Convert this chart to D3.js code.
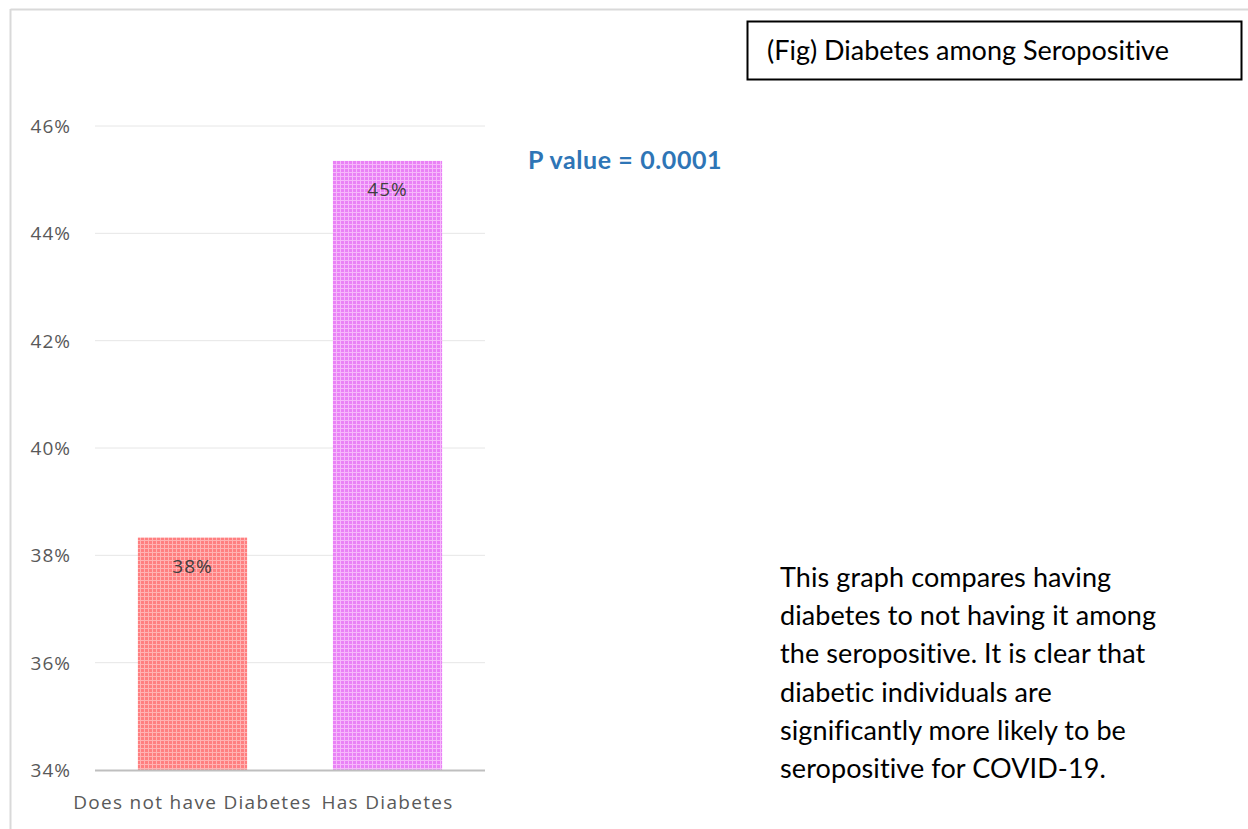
<!DOCTYPE html>
<html>
<head>
<meta charset="utf-8">
<script src="https://cdn.jsdelivr.net/npm/d3@7"></script>
<style>
  body { margin: 0; background: #fff; }
  svg { display: block; }
  text { font-variant-ligatures: none; }
</style>
</head>
<body>
<script>
const width = 1248;
const height = 829;

// data
const categories = ["Does not have Diabetes", "Has Diabetes"];
const values = [38.33, 45.35];
const barLabels = ["38%", "45%"];
const yTicks = [34, 36, 38, 40, 42, 44, 46];
const noteLines = [
    "This graph compares having",
    "diabetes to not having it among",
    "the seropositive. It is clear that",
    "diabetic individuals are",
    "significantly more likely to be",
    "seropositive for COVID-19."
];

const colors = [
    { base: "#ff7f80", light: "#ffb3b3", id: "patRed" },
    { base: "#e982f6", light: "#f6b8fb", id: "patPink" }
];

const svg = d3.select("body")
    .append("svg")
    .attr("width", width)
    .attr("height", height);

// small grid pattern fills for the bars
const defs = svg.append("defs");
colors.forEach(c => {
    const p = defs.append("pattern")
        .attr("id", c.id)
        .attr("patternUnits", "userSpaceOnUse")
        .attr("width", 4)
        .attr("height", 4);
    p.append("rect").attr("width", 4).attr("height", 4).attr("fill", c.base);
    p.append("rect").attr("x", 0).attr("y", 0).attr("width", 4).attr("height", 1).attr("fill", c.light);
    p.append("rect").attr("x", 0).attr("y", 0).attr("width", 1).attr("height", 4).attr("fill", c.light);
});

// chart area border (top + left visible)
svg.append("line")
    .attr("x1", 10.5).attr("x2", width)
    .attr("y1", 9.5).attr("y2", 9.5)
    .attr("stroke", "#d9d9d9").attr("stroke-width", 2);
svg.append("line")
    .attr("x1", 10.5).attr("x2", 10.5)
    .attr("y1", 9).attr("y2", height)
    .attr("stroke", "#d9d9d9").attr("stroke-width", 2);

const x = d3.scaleBand()
    .domain(categories)
    .range([95, 485])
    .paddingInner(0.44)
    .paddingOuter(0.22);

const y = d3.scaleLinear()
    .domain([34, 46])
    .range([770, 126]);

const axisFont = "'Open Sans', sans-serif";

// gridlines
svg.append("g")
    .selectAll("line")
    .data(yTicks.slice(1))
    .enter()
    .append("line")
    .attr("x1", 95).attr("x2", 485)
    .attr("y1", d => y(d)).attr("y2", d => y(d))
    .attr("stroke", "#e6e6e6")
    .attr("stroke-width", 1);

// y axis labels
const yAxis = svg.append("g")
    .attr("transform", "translate(71,0)")
    .call(d3.axisLeft(y).tickValues(yTicks).tickFormat(d => d + "%").tickSize(0).tickPadding(0));
yAxis.select(".domain").remove();
yAxis.selectAll("text")
    .attr("font-family", axisFont)
    .attr("font-size", 19)
    .attr("letter-spacing", 1)
    .attr("fill", "#595959")
    .attr("dy", "0.35em");

// bars
svg.append("g")
    .selectAll("rect")
    .data(values)
    .enter()
    .append("rect")
    .attr("x", (d, i) => x(categories[i]))
    .attr("y", d => y(d))
    .attr("width", x.bandwidth())
    .attr("height", d => y(34) - y(d))
    .attr("fill", (d, i) => "url(#" + colors[i].id + ")");

// bar value labels
svg.append("g")
    .selectAll("text")
    .data(values)
    .enter()
    .append("text")
    .attr("x", (d, i) => x(categories[i]) + x.bandwidth() / 2)
    .attr("y", d => y(d) + 35)
    .attr("text-anchor", "middle")
    .attr("font-family", axisFont)
    .attr("font-size", 19)
    .attr("letter-spacing", 1)
    .attr("fill", "#404040")
    .text((d, i) => barLabels[i]);

// baseline
svg.append("line")
    .attr("x1", 95).attr("x2", 485)
    .attr("y1", y(34) + 0.5).attr("y2", y(34) + 0.5)
    .attr("stroke", "#bfbfbf").attr("stroke-width", 2);

// x axis labels
const xAxis = svg.append("g")
    .attr("transform", "translate(0,770)")
    .call(d3.axisBottom(x).tickSize(0).tickPadding(0));
xAxis.select(".domain").remove();
xAxis.selectAll("text")
    .attr("font-family", axisFont)
    .attr("font-size", 19)
    .attr("letter-spacing", 1.3)
    .attr("fill", "#595959")
    .attr("y", 39)
    .attr("dy", 0);

// p value
svg.append("text")
    .attr("x", 528).attr("y", 169)
    .attr("font-family", "Lato, 'Open Sans', sans-serif")
    .attr("font-weight", "bold")
    .attr("font-size", 25)
    .attr("letter-spacing", 0.6)
    .attr("fill", "#2e75b6")
    .text("P value = 0.0001");

// title box
svg.append("rect")
    .attr("x", 747.5).attr("y", 21.5)
    .attr("width", 494).attr("height", 58)
    .attr("fill", "#fff")
    .attr("stroke", "#000")
    .attr("stroke-width", 2);
svg.append("text")
    .attr("x", 767).attr("y", 60)
    .attr("font-family", "Lato, sans-serif")
    .attr("font-size", 27)
    .attr("fill", "#000")
    .text("(Fig) Diabetes among Seropositive");

// note text
svg.append("text")
    .attr("font-family", "Lato, sans-serif")
    .attr("font-size", 27)
    .attr("letter-spacing", 0.1)
    .attr("fill", "#000")
    .selectAll("tspan")
    .data(noteLines)
    .enter()
    .append("tspan")
    .attr("x", 780)
    .attr("y", (d, i) => 587 + i * 38.2)
    .text(d => d);
</script>
</body>
</html>
